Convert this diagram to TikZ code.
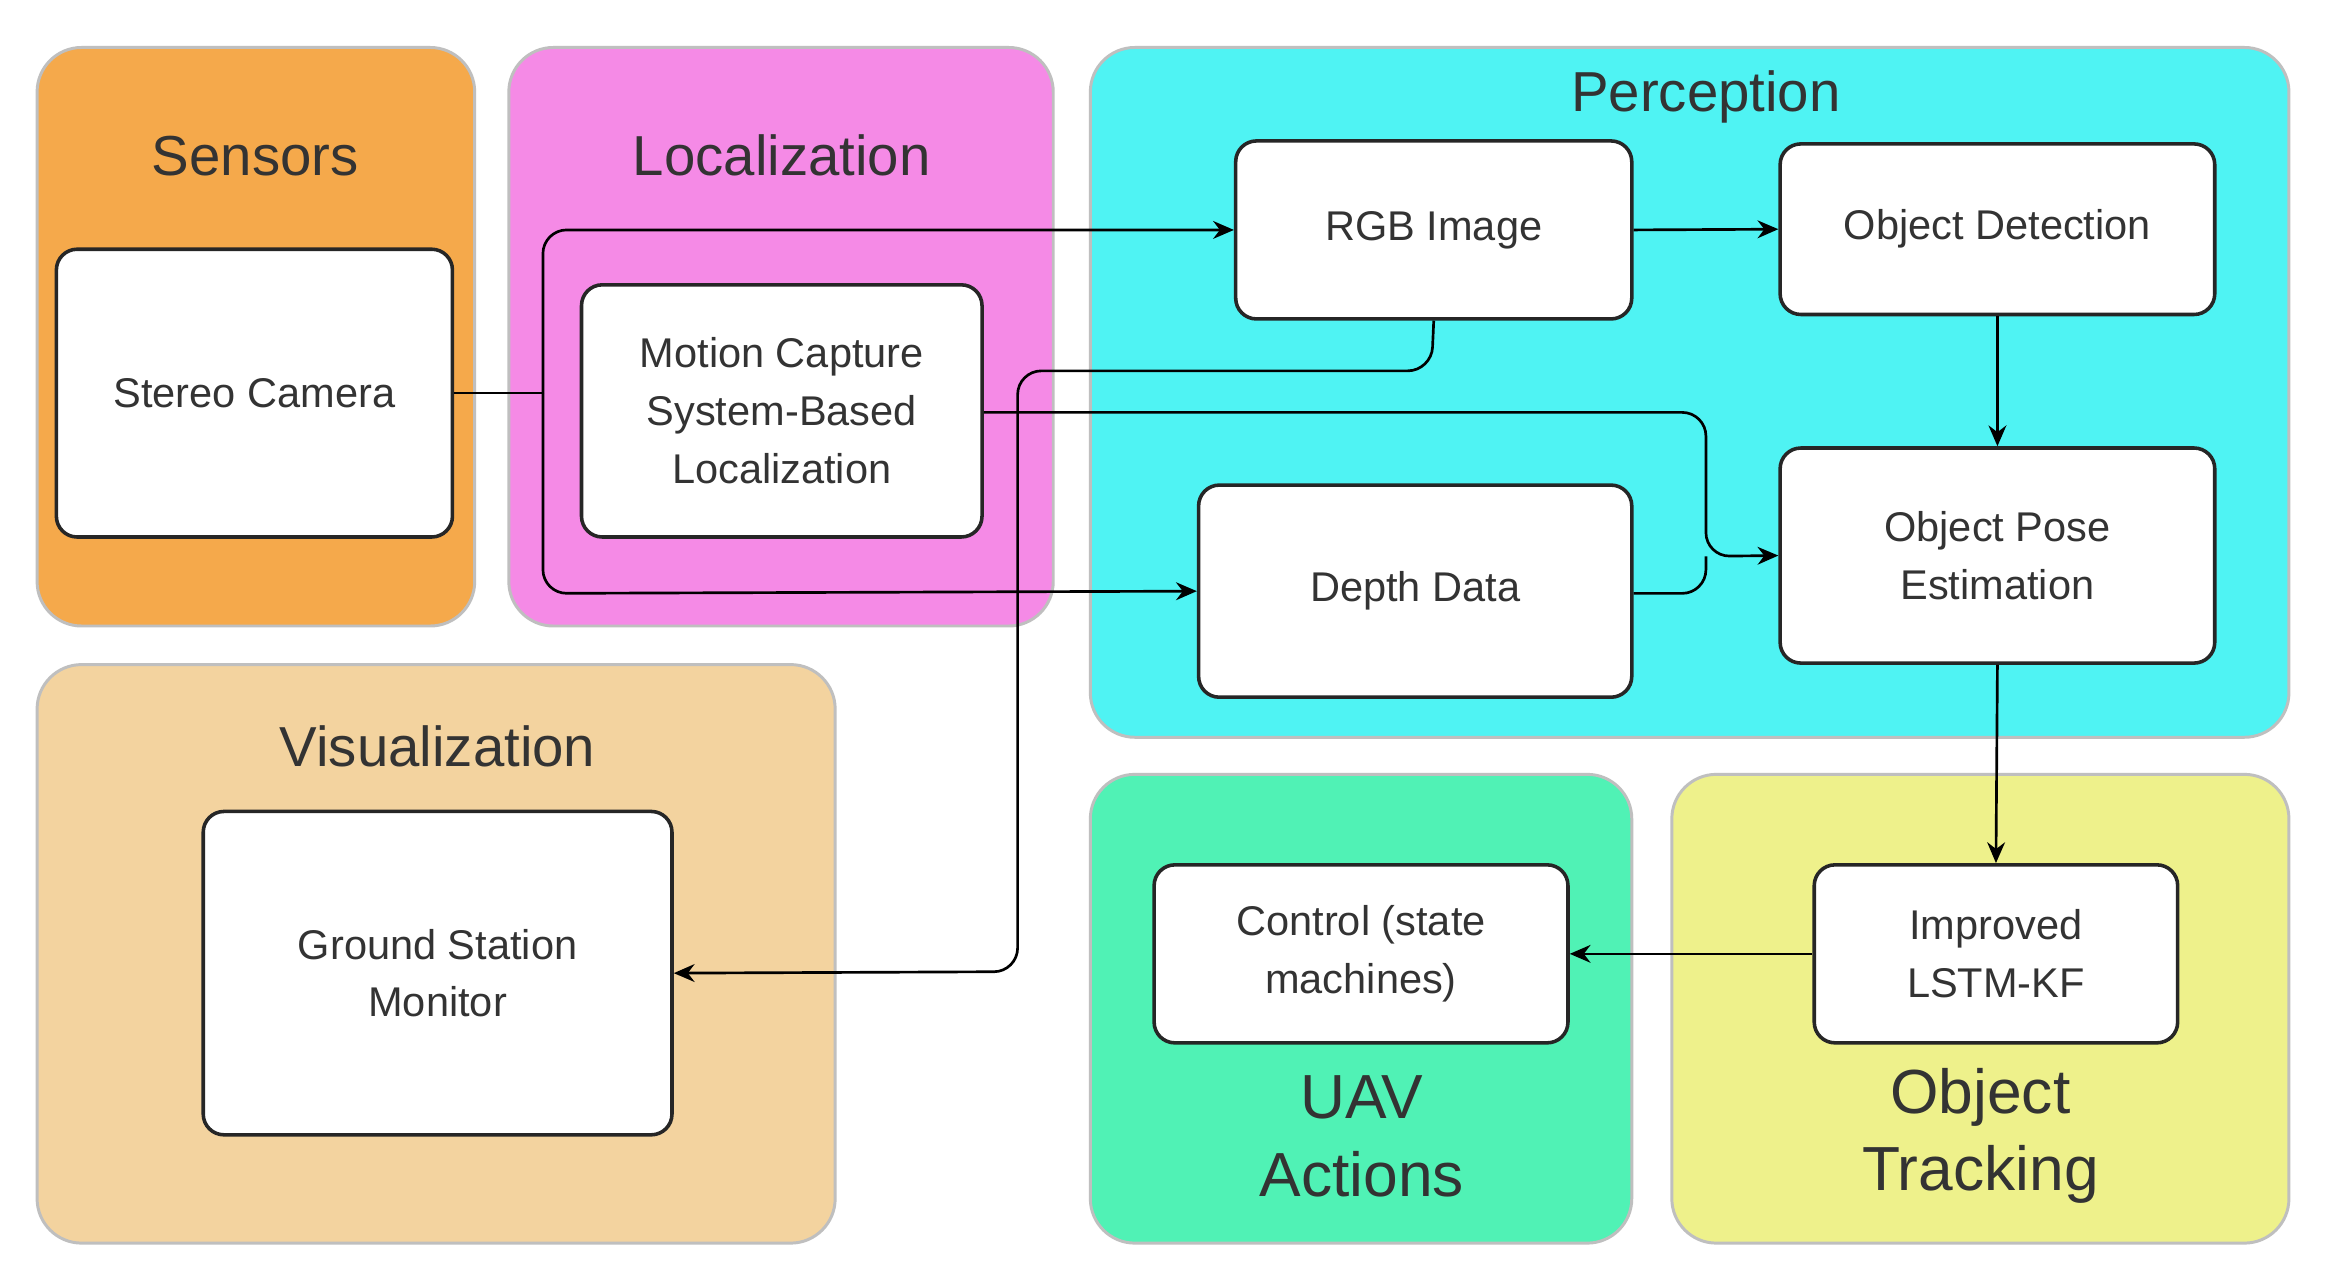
\documentclass[tikz,border=0pt]{standalone}
\usepackage{fontspec}
\setmainfont{Liberation Sans}
\usetikzlibrary{arrows.meta}
\definecolor{cSens}{HTML}{F5A94B}
\definecolor{cLoc}{HTML}{F58AE6}
\definecolor{cPer}{HTML}{4FF3F3}
\definecolor{cVis}{HTML}{F3D39F}
\definecolor{cUav}{HTML}{50F2B5}
\definecolor{cTrk}{HTML}{EEF18B}
\begin{document}
\begin{tikzpicture}[x=0.5pt,y=-0.5pt,
 grp/.style={draw=black!25,line width=1pt,rounded corners=15pt},
 box/.style={draw=black!85,fill=white,line width=1.2pt,rounded corners=7pt,align=center,font=\fontsize{14}{19.5}\selectfont,text=black!80},
 ttl/.style={font=\fontsize{19}{23}\selectfont,text=black!80,align=center},
 arr/.style={-{Stealth[length=7pt,width=6pt]},line width=0.9pt,rounded corners=8pt}]
\useasboundingbox (0,0) rectangle (1568,868);
\fill[white] (0,0) rectangle (1568,868);
% groups
\filldraw[grp,fill=cSens] (25,32) rectangle (320,422);
\filldraw[grp,fill=cLoc] (343,32) rectangle (710,422);
\filldraw[grp,fill=cPer] (735,32) rectangle (1543,497);
\filldraw[grp,fill=cVis] (25,448) rectangle (563,838);
\filldraw[grp,fill=cUav] (735,522) rectangle (1100,838);
\filldraw[grp,fill=cTrk] (1127,522) rectangle (1543,838);
\node[ttl] (tS) at (172,105) {Sensors};
\node[ttl] (tL) at (527,105) {Localization};
\node[ttl] (tP) at (1150,65) {Perception};
\node[ttl] (tV) at (295,503) {Visualization};
\node[ttl,font=\fontsize{21}{26}\selectfont] (tU) at (918,766) {UAV\\Actions};
\node[ttl,font=\fontsize{21}{26}\selectfont] (tT) at (1335,766) {Object\\Tracking};
% boxes
\node[box,minimum width=133.5pt,minimum height=97pt] (cam) at (171.5,265) {Stereo Camera};
\node[box,minimum width=135pt,minimum height=85pt] (moc) at (527,277) {Motion Capture\\System-Based\\Localization};
\node[box,minimum width=133.5pt,minimum height=60pt] (rgb) at (966.5,155) {RGB Image};
\node[box,minimum width=146.5pt,minimum height=57.5pt] (det) at (1346.5,154.5) {Object Detection};
\node[box,minimum width=146.5pt,minimum height=72.5pt] (pose) at (1346.5,374.5) {Object Pose\\Estimation};
\node[box,minimum width=146pt,minimum height=71.5pt] (dep) at (954,398.5) {Depth Data};
\node[box,minimum width=158pt,minimum height=109pt] (gsm) at (295,656) {Ground Station\\Monitor};
\node[box,minimum width=139.5pt,minimum height=60pt] (ctl) at (917.5,643) {Control (state\\machines)};
\node[box,minimum width=122.5pt,minimum height=60pt] (lstm) at (1345.5,643) {Improved\\LSTM-KF};
% connectors
\coordinate (j) at (366,265);
\draw[line width=0.9pt] (cam.east) -- (j);
\draw[arr] (j) -- (366,155) -- (rgb.west);
\draw[arr] (j) -- (366,400) -- (dep.west);
\draw[arr] (moc.east |- 0,278) -- (1150,278) -- (1150,375) -- (pose.west);
\draw[line width=0.9pt,rounded corners=8pt] (dep.east |- 0,400) -- (1150,400) -- (1150,375);
\draw[arr] (rgb.south) -- (965,250) -- (686,250) -- (686,655) -- (gsm.east);
\draw[arr] (rgb.east) -- (det.west);
\draw[arr] (det.south) -- (pose.north);
\draw[arr] (pose.south) -- (lstm.north);
\draw[arr] (lstm.west) -- (ctl.east);
\end{tikzpicture}
\end{document}
